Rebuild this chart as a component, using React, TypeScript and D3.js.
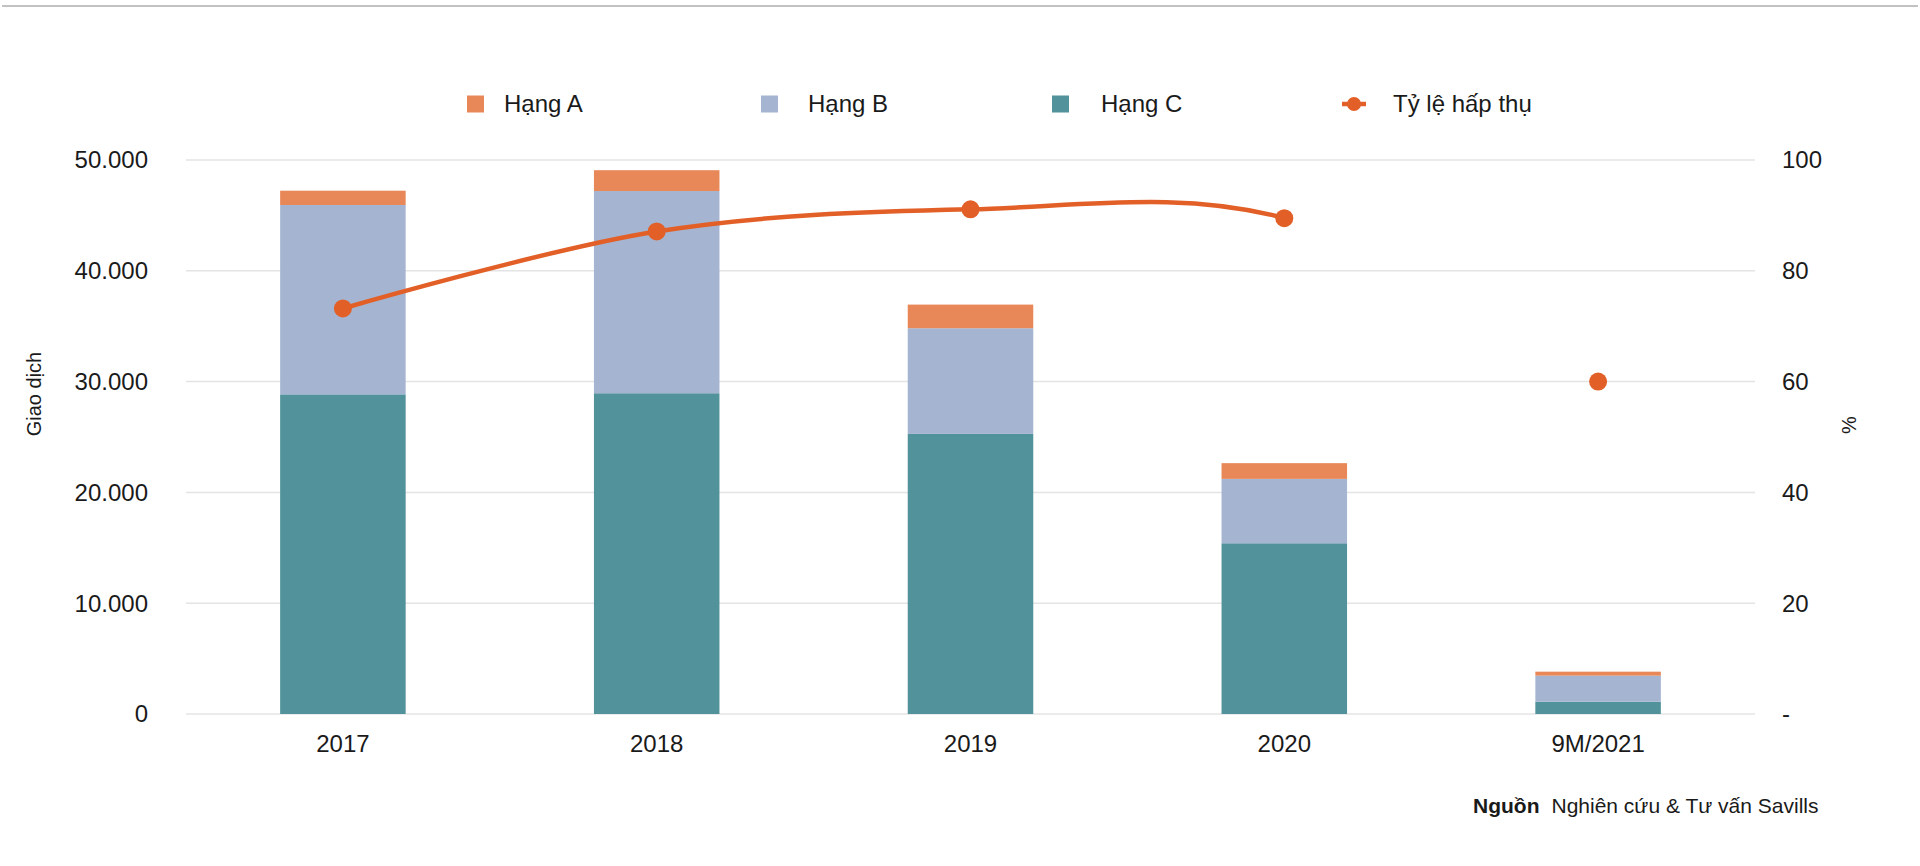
import React from "react";
import * as d3 from "d3";

const categories = ["2017", "2018", "2019", "2020", "9M/2021"];
const hangC = [28850, 28950, 25280, 15410, 1110];
const hangB = [17090, 18250, 9540, 5810, 2350];
const hangA = [1290, 1880, 2130, 1420, 360];
const absorption = [73.2, 87.1, 91.1, 89.5, 60.0];
const leftTicks = [0, 10000, 20000, 30000, 40000, 50000];
const rightTicks = [0, 20, 40, 60, 80, 100];
const seriesNames = ["Hạng A", "Hạng B", "Hạng C"];
const lineName = "Tỷ lệ hấp thụ";

const W = 1920;
const H = 866;
const FONT = "'Liberation Sans', Arial, Helvetica, sans-serif";
const COLORS: Record<string, string> = {
  A: "#E88858",
  B: "#A5B5D1",
  C: "#52929B",
  line: "#E26028",
};

export default function App() {
  const x = d3
    .scaleBand<string>()
    .domain(categories)
    .range([186, 1755])
    .paddingInner(0.6)
    .paddingOuter(0.3);
  const yL = d3.scaleLinear().domain([0, 50000]).range([714, 160]);
  const yR = d3.scaleLinear().domain([0, 100]).range([714, 160]);

  const rows = categories.map((c, i) => ({ cat: c, C: hangC[i], B: hangB[i], A: hangA[i] }));
  const stack = d3.stack<any>().keys(["C", "B", "A"])(rows);

  const fmtL = (v: number) => d3.format(",")(v).replace(/,/g, ".");
  const fmtR = (v: number) => (v === 0 ? "-" : String(v));

  const pts = categories.map((c, i) => [x(c)! + x.bandwidth() / 2, yR(absorption[i])] as [number, number]);
  const linePath = d3.line().curve(d3.curveCardinal.tension(0))(pts) || "";
  const clipRight = x("2020")! + x.bandwidth() / 2;

  const legendY = 104;
  const legendItems = [
    { key: "A", sq: 467, tx: 504 },
    { key: "B", sq: 761, tx: 808 },
    { key: "C", sq: 1052, tx: 1101 },
  ];

  return (
    <div style={{ position: "fixed", left: 0, top: 0, width: W, height: H, background: "#fff" }}>
      <svg width={W} height={H} style={{ display: "block", fontFamily: FONT }}>
        <defs>
          <clipPath id="lineClip">
            <rect x={0} y={0} width={clipRight} height={H} />
          </clipPath>
        </defs>
        <rect x={0} y={0} width={W} height={H} fill="#fff" />
        <line x1={2} x2={W - 2} y1={6} y2={6} stroke="#c2c2c2" strokeWidth={2} />

        {/* gridlines */}
        {leftTicks.map((t) => (
          <line key={t} x1={186} x2={1755} y1={yL(t)} y2={yL(t)} stroke="#e4e4e4" strokeWidth={1.5} />
        ))}

        {/* left tick labels */}
        {leftTicks.map((t) => (
          <text key={t} x={148} y={yL(t)} dy="0.35em" textAnchor="end" fontSize={24} fill="#1a1a1a">
            {fmtL(t)}
          </text>
        ))}
        {/* right tick labels */}
        {rightTicks.map((t) => (
          <text key={t} x={1782} y={yR(t)} dy="0.35em" textAnchor="start" fontSize={24} fill="#1a1a1a">
            {fmtR(t)}
          </text>
        ))}

        {/* axis titles */}
        <text transform="translate(34,394) rotate(-90)" textAnchor="middle" dy="0.35em" fontSize={20} fill="#1a1a1a">
          Giao dịch
        </text>
        <text transform="translate(1849,425) rotate(-90)" textAnchor="middle" dy="0.35em" fontSize={20} fill="#1a1a1a">
          %
        </text>

        {/* bars */}
        {stack.map((s) => (
          <g key={s.key} fill={COLORS[s.key]}>
            {s.map((d, i) => (
              <rect
                key={i}
                x={x(categories[i])}
                width={x.bandwidth()}
                y={yL(d[1])}
                height={yL(d[0]) - yL(d[1])}
              />
            ))}
          </g>
        ))}

        {/* x labels */}
        {categories.map((c) => (
          <text key={c} x={x(c)! + x.bandwidth() / 2} y={744} dy="0.35em" textAnchor="middle" fontSize={24} fill="#1a1a1a">
            {c}
          </text>
        ))}

        {/* line */}
        <path d={linePath} fill="none" stroke={COLORS.line} strokeWidth={4.5} clipPath="url(#lineClip)" />
        {pts.map((p, i) => (
          <circle key={i} cx={p[0]} cy={p[1]} r={9} fill={COLORS.line} />
        ))}

        {/* legend */}
        {legendItems.map((it, i) => (
          <g key={it.key}>
            <rect x={it.sq} y={legendY - 8.5} width={17} height={17} fill={COLORS[it.key]} />
            <text x={it.tx} y={legendY} dy="0.35em" fontSize={24} fill="#1a1a1a">
              {seriesNames[i]}
            </text>
          </g>
        ))}
        <line x1={1342} x2={1366} y1={legendY} y2={legendY} stroke={COLORS.line} strokeWidth={4.5} />
        <circle cx={1354} cy={legendY} r={7} fill={COLORS.line} />
        <text x={1393} y={legendY} dy="0.35em" fontSize={24} fill="#1a1a1a">
          {lineName}
        </text>

        {/* source */}
        <text x={1473} y={806} dy="0.35em" fontSize={21} fill="#1a1a1a">
          <tspan fontWeight="bold">Nguồn</tspan>
          <tspan dx={12}>Nghiên cứu &amp; Tư vấn Savills</tspan>
        </text>
      </svg>
    </div>
  );
}
